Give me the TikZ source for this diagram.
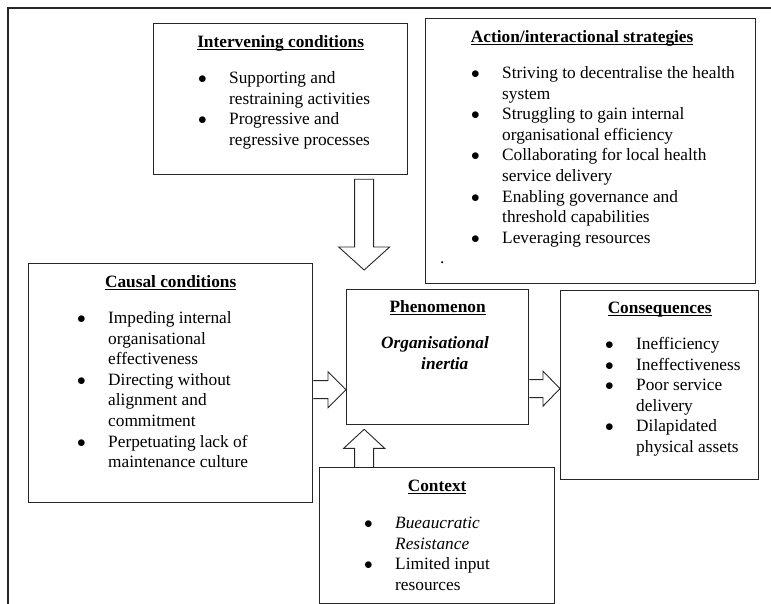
\documentclass[tikz,border=0pt]{standalone}
\usepackage{fontspec}
\setmainfont{Liberation Serif}
\usetikzlibrary{calc}

\newcommand{\boxtitle}[1]{\underline{\smash{\textbf{#1}}}}
\newcommand{\bul}{$\bullet$}

\begin{document}
\begin{tikzpicture}[
    x=1pt, y=-1pt,
    every node/.style={font=\fontsize{17.3}{20.6}\selectfont},
    box/.style={draw=black!85, line width=1.3pt, inner sep=0pt, anchor=north west},
    heading/.style={anchor=base, inner sep=0pt},
    bullets/.style={anchor=base west, inner sep=0pt},
    hollow/.style={draw=black!85, line width=0.9pt, line join=miter}
]
\useasboundingbox (0,0) rectangle (771,604);

% === Page frame ===
\draw[black!85, line width=1.2pt] (8,604) -- (8,8) -- (771,8);

% === Boxes ===
\node[box, minimum width=254pt, minimum height=151pt] (interv) at (153,23) {};
\node[box, minimum width=330pt, minimum height=265pt] (action) at (425,18) {};
\node[box, minimum width=284pt, minimum height=239pt] (causal) at (28,263) {};
\node[box, minimum width=182pt, minimum height=135pt] (phen) at (346,289) {};
\node[box, minimum width=198pt, minimum height=189pt] (conseq) at (560,290) {};
\node[box, minimum width=235pt, minimum height=136pt] (context) at (319,467) {};

% === Headings ===
\node[heading] (intervtitle) at ($(interv.north)+(0,25)$) {\boxtitle{Intervening conditions}};
\node[heading] (actiontitle) at ($(action.north)+(-8.5,25)$) {\boxtitle{Action/interactional strategies}};
\node[heading] (causaltitle) at ($(causal.north)+(0,24.5)$) {\boxtitle{Causal conditions}};
\node[heading] (phentitle) at ($(phen.north)+(0,23.5)$) {\boxtitle{Phenomenon}};
\node[heading] (conseqtitle) at ($(conseq.north)+(0,23.5)$) {\boxtitle{Consequences}};
\node[heading] (contexttitle) at ($(context.north)+(0,24.5)$) {\boxtitle{Context}};

% === Bullet lists ===
\node[bullets] (intervlist) at ($(interv.north west)+(45,60.5)$) {%
  \begin{tabular}[t]{@{}p{31pt}@{}l@{}}
    \bul & Supporting and\\
         & restraining activities\\
    \bul & Progressive and\\
         & regressive processes
  \end{tabular}};

\node[bullets] (actionlist) at ($(action.north west)+(46,60.5)$) {%
  \begin{tabular}[t]{@{}p{31pt}@{}l@{}}
    \bul & Striving to decentralise the health\\
         & system\\
    \bul & Struggling to gain internal\\
         & organisational efficiency\\
    \bul & Collaborating for local health\\
         & service delivery\\
    \bul & Enabling governance and\\
         & threshold capabilities\\
    \bul & Leveraging resources
  \end{tabular}};
\node[bullets] (actiondot) at ($(action.north west)+(15,245.5)$) {.};

\node[bullets] (causallist) at ($(causal.north west)+(49,60.5)$) {%
  \begin{tabular}[t]{@{}p{31pt}@{}l@{}}
    \bul & Impeding internal\\
         & organisational\\
         & effectiveness\\
    \bul & Directing without\\
         & alignment and\\
         & commitment\\
    \bul & Perpetuating lack of\\
         & maintenance culture
  \end{tabular}};

\node[bullets] (phentext) at ($(phen.north west)+(35,59.5)$) {%
  \begin{tabular}[t]{@{}l@{}}
    \textbf{\textit{Organisational}}\\
    \hspace*{40pt}\textbf{\textit{inertia}}
  \end{tabular}};

\node[bullets] (conseqlist) at ($(conseq.north west)+(45,59.5)$) {%
  \begin{tabular}[t]{@{}p{31pt}@{}l@{}}
    \bul & Inefficiency\\
    \bul & Ineffectiveness\\
    \bul & Poor service\\
         & delivery\\
    \bul & Dilapidated\\
         & physical assets
  \end{tabular}};

\node[bullets] (contextlist) at ($(context.north west)+(45,61.5)$) {%
  \begin{tabular}[t]{@{}p{31pt}@{}l@{}}
    \bul & \textit{Bueaucratic}\\
         & \textit{Resistance}\\
    \bul & Limited input\\
         & resources
  \end{tabular}};

% === Block arrows ===
% intervening -> phenomenon (down)
\coordinate (ip1) at ($(interv.south)+(83.5,4)$);
\coordinate (ip2) at ($(ip1 |- phen.north)+(0,-19)$);
\draw[hollow] ($(ip1)+(-9.5,0)$) -- ($(ip2)+(-9.5,-23)$) -- ($(ip2)+(-25.5,-23)$) -- (ip2)
    -- ($(ip2)+(25.5,-23)$) -- ($(ip2)+(9.5,-23)$) -- ($(ip1)+(9.5,0)$) -- cycle;

% causal -> phenomenon (right)
\coordinate (cp1) at ($(causal.east)+(0,6.5)$);
\coordinate (cp2) at (cp1 -| phen.west);
\draw[hollow] ($(cp1)+(0,-9)$) -- ($(cp2)+(-18,-9)$) -- ($(cp2)+(-18,-18)$) -- (cp2)
    -- ($(cp2)+(-18,18)$) -- ($(cp2)+(-18,9)$) -- ($(cp1)+(0,9)$);

% phenomenon -> consequences (right)
\coordinate (pc1) at ($(phen.east)+(0,31.5)$);
\coordinate (pc2) at (pc1 -| conseq.west);
\draw[hollow] ($(pc1)+(0,-9)$) -- ($(pc2)+(-17,-9)$) -- ($(pc2)+(-17,-17.5)$) -- (pc2)
    -- ($(pc2)+(-17,17.5)$) -- ($(pc2)+(-17,9)$) -- ($(pc1)+(0,9)$);

% context -> phenomenon (up)
\coordinate (xp1) at ($(context.north)+(-73,0)$);
\coordinate (xp2) at ($(xp1 |- phen.south)+(0,4)$);
\draw[hollow] ($(xp1)+(-9.5,0)$) -- ($(xp2)+(-9.5,19)$) -- ($(xp2)+(-20.5,19)$) -- (xp2)
    -- ($(xp2)+(20.5,19)$) -- ($(xp2)+(9.5,19)$) -- ($(xp1)+(9.5,0)$);

\end{tikzpicture}
\end{document}
